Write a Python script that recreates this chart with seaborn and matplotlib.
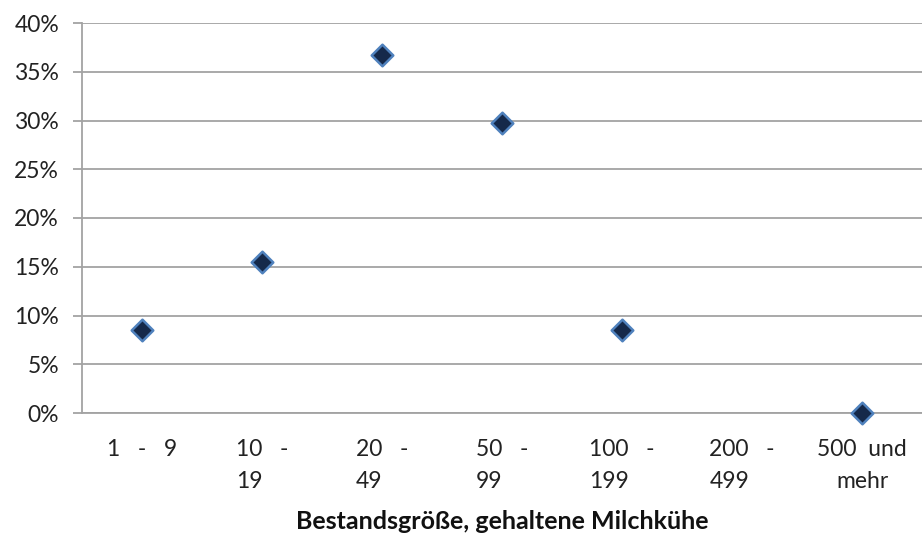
import numpy as np
import pandas as pd
import matplotlib
matplotlib.use("Agg")
import matplotlib.pyplot as plt
from matplotlib.ticker import PercentFormatter, FixedLocator
import seaborn as sns

# Herd size classes (number of dairy cows kept) and share of farms per class
categories = ["1 - 9", "10 - 19", "20 - 49", "50 - 99", "100 - 199", "200 - 499", "500 und mehr"]
tick_labels = ["1   -   9", "10   -\n19", "20   -\n49", "50   -\n99", "100   -\n199", "200   -\n499", "500  und\nmehr"]
shares = [0.085, 0.155, 0.367, 0.297, 0.085, np.nan, 0.0]
y_ticks = [0.00, 0.05, 0.10, 0.15, 0.20, 0.25, 0.30, 0.35, 0.40]

sns.set_style("white")
plt.rcParams["font.family"] = ["Lato", "DejaVu Sans"]

grey = "#a3a3a3"
df = pd.DataFrame({"klasse": categories, "anteil": shares})

fig = plt.figure(figsize=(9.22, 5.33), dpi=100)
ax = fig.add_axes([82 / 922, 1 - 413 / 533, 840 / 922, 390 / 533])

sns.stripplot(data=df, x="klasse", y="anteil", order=categories, jitter=False,
              marker="D", size=11, color="#15294a", edgecolor="#4f81bd",
              linewidth=1.8, ax=ax, zorder=5, clip_on=False)

ax.set_xlim(-0.5, len(categories) - 0.5)
ax.set_ylim(0, 0.40)
ax.yaxis.set_major_locator(FixedLocator(y_ticks))
ax.yaxis.set_major_formatter(PercentFormatter(xmax=1, decimals=0))
ax.grid(axis="y", color=grey, linewidth=1.3)
ax.grid(axis="x", visible=False)
ax.set_axisbelow(True)

for side in ("top", "right"):
    ax.spines[side].set_visible(False)
for side in ("left", "bottom"):
    ax.spines[side].set_color(grey)
    ax.spines[side].set_linewidth(1.3)

# category labels centred under each point, ticks on the class boundaries
ax.set_xticks(range(len(categories)))
ax.set_xticklabels(tick_labels, fontsize=16.5, color="#222222", linespacing=1.65)
for lbl, txt in zip(ax.get_xticklabels(), tick_labels):
    lbl.set_multialignment("center" if "mehr" in txt else "left")
    lbl.set_verticalalignment("top")
ax.tick_params(axis="x", which="major", length=0, pad=19)
ax.set_xticks(np.arange(-0.5, len(categories), 1.0), minor=True)
ax.tick_params(axis="x", which="minor", length=5, color=grey, width=1.3, direction="out")

ax.tick_params(axis="y", which="major", length=6.5, color=grey, width=1.3,
               labelsize=16.5, labelcolor="#222222", pad=10, left=True)

ax.set_xlabel("Bestandsgröße, gehaltene Milchkühe", fontsize=18, fontweight="bold",
              color="#111111", labelpad=13)
ax.set_ylabel("")

fig.savefig("out.png", dpi=100)
